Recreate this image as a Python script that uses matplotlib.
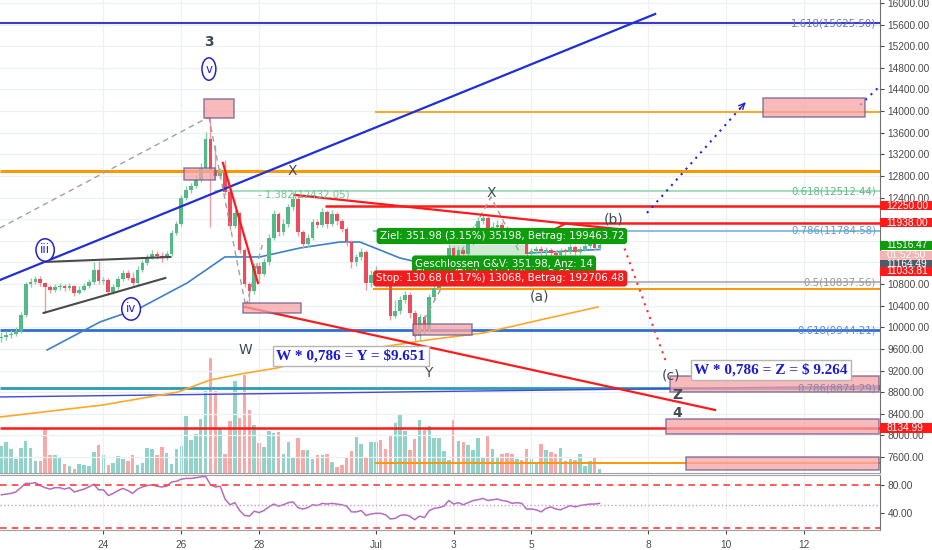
import numpy as np
import pandas as pd
import matplotlib
matplotlib.use("Agg")
import matplotlib.pyplot as plt
import matplotlib.dates as mdates
import matplotlib.transforms as mtransforms
from matplotlib.patches import Rectangle
from datetime import datetime

# BTCUSD 3h candles, 21 Jun 09:00 -> 6 Jul 18:00 (2019)
closes = [9821, 9858, 9876, 9932, 10228, 10801, 10838, 10894, 10820, 10746,
          10690, 10746, 10764, 10727, 10764, 10635, 10690, 10764, 10838, 11060,
          10857, 10875, 10653, 10746, 10894, 11005, 10912, 10820, 11060, 11190,
          11301, 11356, 11319, 11282, 11356, 11745, 11911, 12392, 12540, 12614,
          12725, 12947, 13484, 12910, 12799, 12855, 12503, 11874, 12115, 11430,
          10801, 10672, 11134, 10986, 11208, 11652, 12096, 11763, 11911, 12226,
          12374, 11763, 11541, 11652, 11948, 11893, 12133, 11911, 12096, 11967,
          11819, 11578, 11208, 11301, 11393, 10820, 10968, 11005, 10931, 10820,
          10209, 10302, 10505, 10598, 10265, 9839, 10191, 9969, 10561, 10727,
          10820, 11042, 11467, 11301, 11430, 11356, 11578, 11800, 11967, 12022,
          11819, 11856, 11893, 11782, 11745, 11615, 11671, 11615, 11356, 11412,
          11449, 11412, 11430, 11375, 11338, 11412, 11393, 11486, 11393, 11449,
          11504, 11541, 11467, 11516]
highs = [9913, 9932, 9950, 10006, 10283, 10838, 10912, 10949, 10949, 10838,
         10783, 10801, 10820, 10801, 10820, 10783, 10764, 10820, 10894, 11208,
         11227, 10931, 10912, 10801, 10949, 11060, 11060, 11023, 11134, 11245,
         11356, 11430, 11412, 11393, 11412, 11800, 11967, 12448, 12614, 12670,
         12818, 13040, 13613, 13890, 13373, 12947, 13095, 12577, 12170, 12133,
         11467, 10838, 11190, 11208, 11282, 11726, 12170, 12133, 12004, 12281,
         12503, 12429, 11800, 11726, 12004, 11985, 12207, 12170, 12170, 12133,
         12004, 11856, 11615, 11356, 11467, 11430, 11060, 11134, 11060, 11023,
         10875, 10505, 10579, 10672, 10653, 10320, 10246, 10228, 10616, 10801,
         10875, 11134, 11541, 11504, 11504, 11467, 11652, 11874, 12041, 12096,
         12059, 11948, 11985, 11948, 11874, 11800, 11726, 11708, 11652, 11467,
         11504, 11504, 11486, 11467, 11430, 11467, 11467, 11541, 11523, 11504,
         11560, 11615, 11597, 11615]
lows = [9728, 9765, 9802, 9839, 9895, 10191, 10746, 10801, 10764, 10265,
        10635, 10653, 10690, 10672, 10690, 10579, 10616, 10672, 10727, 10801,
        10801, 10801, 10598, 10616, 10709, 10857, 10875, 10764, 10783, 11023,
        11153, 11264, 11264, 11208, 11245, 11319, 11708, 11874, 12355, 12485,
        12577, 12688, 12892, 11856, 12725, 12762, 12448, 11800, 11837, 11375,
        10746, 10413, 10616, 10838, 10949, 11153, 11615, 11689, 11708, 11856,
        12170, 11689, 11467, 11486, 11615, 11837, 11856, 11837, 11874, 11893,
        11763, 11504, 11097, 11134, 11245, 10690, 10746, 10875, 10838, 10746,
        10135, 10172, 10246, 10450, 10172, 9728, 9765, 9876, 9913, 10505,
        10653, 10764, 10986, 11245, 11264, 11282, 11319, 11523, 11763, 11911,
        11763, 11763, 11800, 11726, 11689, 11560, 11523, 11541, 11208, 11301,
        11356, 11338, 11319, 11319, 11282, 11301, 11338, 11356, 11338, 11356,
        11412, 11467, 11430, 11449]
volumes = [27, 31, 24, 14, 25, 32, 25, 12, 12, 45,
           18, 18, 16, 9, 7, 4, 9, 8, 7, 21,
           28, 18, 8, 10, 17, 14, 12, 18, 8, 10,
           25, 24, 18, 26, 20, 9, 24, 27, 57, 33,
           39, 54, 82, 115, 82, 44, 19, 52, 92, 55,
           98, 63, 48, 30, 26, 42, 40, 41, 19, 31,
           16, 35, 23, 23, 14, 18, 18, 19, 11, 6,
           8, 16, 22, 36, 29, 15, 31, 31, 33, 24,
           38, 50, 59, 42, 23, 34, 53, 43, 47, 35,
           35, 22, 13, 53, 32, 31, 28, 23, 35, 16,
           38, 24, 15, 19, 20, 19, 14, 13, 24, 14,
           11, 29, 23, 21, 19, 25, 12, 14, 13, 19,
           7, 12, 15, 4]
rsi = [66, 67, 68, 70, 76, 82, 82, 83, 79, 76,
       74, 76, 76, 74, 76, 70, 72, 74, 77, 81,
       73, 73, 65, 68, 72, 75, 72, 68, 74, 77,
       79, 80, 78, 77, 78, 84, 85, 88, 89, 89,
       90, 91, 92, 80, 77, 78, 60, 52, 55, 44,
       37, 36, 43, 41, 44, 49, 53, 50, 52, 55,
       56, 48, 46, 48, 52, 51, 54, 53, 54, 53,
       52, 50, 42, 42, 44, 37, 39, 40, 40, 38,
       32, 33, 37, 38, 36, 31, 36, 34, 44, 47,
       48, 50, 58, 53, 55, 52, 55, 58, 59, 61,
       58, 59, 60, 58, 57, 54, 55, 54, 46, 46,
       45, 42, 47, 49, 46, 45, 48, 51, 49, 51,
       52, 53, 53, 54]

# moving averages (June day, price)
ma_blue_days = [22.55, 23.91, 24.94, 26.15, 27.12, 28.02, 29.05, 30.08, 30.59, 31.62, 32.39, 33.42, 34.96, 36.76]
ma_blue = [9580, 10098, 10357, 10820, 11301, 11301, 11467, 11578, 11578, 11282, 11153, 11208, 11375, 11440]
ma_orange_days = [21.34, 23.99, 25.92, 26.74, 27.53, 28.46, 29.82, 32.32, 33.76, 35.22, 36.71]
ma_orange = [8340, 8563, 8803, 9025, 9136, 9247, 9488, 9765, 9895, 10135, 10376]

fib_prices = [15625.50, 12512.44, 11784.58, 10837.56, 9944.21, 8874.29]
fib_names = ["1.618", "0.618", "0.786", "0.5", "0.618", "0.786"]

tag_prices = [12250.00, 11938.00, 11516.47, 11164.49, 11033.81, 8134.99]
price_ticks = list(range(7600, 16001, 400))
hidden_ticks = [12000, 11600, 11200]
date_ticks = [24, 26, 28, 31, 33, 35, 38, 40, 42]
date_labels = ["24", "26", "28", "Jul", "3", "5", "8", "10", "12"]

AXFONT = "Liberation Sans"
AXSIZE = 7.3


def jun(d):
    # day of June 2019 (past 30 runs into July) -> date number
    return mdates.date2num(datetime(2019, 6, 1)) + d - 1


t = mdates.date2num(pd.date_range("2019-06-21 09:00", periods=len(closes), freq="3h").to_pydatetime())
c = np.array(closes, dtype=float)
o = np.concatenate([[9800.0], c[:-1]])
h = np.maximum(np.array(highs), np.maximum(o, c))
l = np.minimum(np.array(lows), np.minimum(o, c))
up = c >= o

fig = plt.figure(figsize=(9.32, 5.5), dpi=100)
ax = fig.add_axes([0, 77 / 550, 880 / 932, 473 / 550])
axv = ax.twinx()
ax.set_zorder(3)
axv.set_zorder(1)
ax.patch.set_visible(False)
axr = fig.add_axes([0, 20 / 550, 880 / 932, 55 / 550], sharex=ax)

x0, x1 = jun(21.34), jun(43.96)
ax.set_xlim(x0, x1)
ax.set_ylim(7304, 16055)
axv.set_ylim(0, 473)

# grid
for d in date_ticks:
    ax.axvline(jun(d), color="#edf1f6", lw=0.9, zorder=0)
    axr.axvline(jun(d), color="#edf1f6", lw=0.9, zorder=0)
for p in price_ticks:
    ax.axhline(p, color="#edf1f6", lw=0.9, zorder=0)

# volume
vcol = np.where(up, "#92d3c9", "#f6a9a7")
axv.bar(t, volumes, width=0.09, color=vcol, zorder=1)
axv.set_yticks([])
for s in axv.spines.values():
    s.set_visible(False)

# horizontal levels
ax.hlines(fib_prices[0], x0, x1, color="#3b3bd2", lw=1.5, zorder=2)
ax.hlines(13980, jun(30.98), x1, color="#f9a825", lw=1.4, zorder=2)
ax.hlines(12900, x0, x1, color="#ff9800", lw=2.2, zorder=2)
ax.hlines(fib_prices[1], jun(26.85), x1, color="#a6dfc0", lw=1.5, zorder=2)
ax.hlines(12250, jun(29.69), x1, color="#ff1a1a", lw=1.8, zorder=2)
ax.hlines(11938, jun(35.7), x1, color="#ff1a1a", lw=1.8, zorder=2)
ax.hlines(fib_prices[2], jun(30.93), x1, color="#92bce0", lw=1.5, zorder=2)
ax.hlines(fib_prices[3], jun(30.93), x1, color="#b8b8b8", lw=1.5, zorder=2)
ax.hlines(10700, jun(30.93), x1, color="#ff9800", lw=1.4, zorder=2)
ax.hlines(fib_prices[4], x0, x1, color="#2f6fd6", lw=2, zorder=2)
ax.hlines(fib_prices[5], x0, x1, color="#2a9cb3", lw=2, zorder=2)
ax.plot([x0, x1], [8711, 8914], color="#4646dc", lw=1, zorder=2)
ax.hlines(8134.99, x0, x1, color="#ff1a1a", lw=1.8, zorder=2)
ax.hlines(7490, jun(30.98), x1, color="#ff9800", lw=1.4, zorder=2)

# moving averages
ax.plot([jun(d) for d in ma_blue_days], ma_blue, color="#3b82c8", lw=1.2, zorder=3)
ax.plot([jun(d) for d in ma_orange_days], ma_orange, color="#ffa726", lw=1.2, zorder=3)

# position tool areas
ax.add_patch(Rectangle((jun(32.91), 11164.49), jun(34.89) - jun(32.91), 11516.47 - 11164.49,
                       facecolor="#cdebd3", edgecolor="none", zorder=3))
ax.add_patch(Rectangle((jun(32.91), 11033.81), jun(34.89) - jun(32.91), 11164.49 - 11033.81,
                       facecolor="#f8d0d0", edgecolor="none", zorder=3))

# candles
ax.vlines(t[up], l[up], h[up], color="#86cda8", lw=1, zorder=4)
ax.vlines(t[~up], l[~up], h[~up], color="#f29aa3", lw=1, zorder=4)
body = c - o
body[np.abs(body) < 25] = 25
ax.bar(t, body, bottom=o, width=0.095, color=np.where(up, "#53b987", "#eb4d5c"), zorder=5)

# trend lines
ax.plot([x0, jun(38.18)], [10875, 15796], color="#1f2fd8", lw=1.6, zorder=6)
ax.plot([x0, jun(26.71)], [11837, 13890], color="#a0a0a0", lw=1, ls=(0, (4, 3)), zorder=6)
ax.plot([jun(26.71), jun(27.66), jun(28.08)], [13890, 10376, 11523], color="#a0a0a0", lw=1, ls=(0, (4, 3)), zorder=6)
ax.plot([jun(32.0), jun(33.96), jun(34.7)], [9821, 12411, 11375], color="#a0a0a0", lw=1, ls=(0, (4, 3)), zorder=6)
ax.plot([jun(22.48), jun(25.72)], [11208, 11301], color="#4a4a4a", lw=1.5, zorder=6)
ax.plot([jun(22.46), jun(25.59)], [10265, 10912], color="#4a4a4a", lw=1.5, zorder=6)
ax.plot([jun(27.07), jun(27.97)], [13040, 10820], color="#ff1a1a", lw=1.6, zorder=6)
ax.plot([jun(27.64), jun(39.72)], [10376, 8470], color="#ff1a1a", lw=1.6, zorder=6)
ax.plot([jun(28.92), jun(37.2)], [12448, 11819], color="#ff1a1a", lw=1.6, zorder=6)
ax.annotate("", xy=(jun(34.97), 11597), xytext=(jun(35.92), 11930),
            arrowprops=dict(arrowstyle="-|>", color="#ff1a1a", lw=1.3), zorder=6)
ax.plot([jun(37.2), jun(38.49)], [11837, 9303], color="#ff2a2a", lw=1.5, ls=(0, (1, 2.5)), zorder=6)
ax.plot([jun(37.97), jun(40.49)], [12115, 14150], color="#2323d0", lw=1.5, ls=(0, (1, 2.5)), zorder=6)
ax.annotate("", xy=(jun(40.55), 14200), xytext=(jun(40.3), 14000),
            arrowprops=dict(arrowstyle="->", color="#2323d0", lw=1), zorder=6)
ax.plot([jun(43.45), jun(44.1)], [14113, 14560], color="#2323d0", lw=1.5, ls=(0, (1, 2.5)), zorder=6)

# boxes
boxes = [(26.58, 27.35, 13872, 14224), (26.07, 26.87, 12725, 12947), (27.59, 29.08, 10265, 10450),
         (31.96, 33.48, 9858, 10061), (40.95, 43.58, 13890, 14242), (38.57, 43.93, 8803, 9099),
         (38.46, 43.93, 8026, 8304), (38.98, 43.93, 7360, 7600)]
for a, b, lo, hi in boxes:
    ax.add_patch(Rectangle((jun(a), lo), jun(b) - jun(a), hi - lo, facecolor="#f7a3a6", alpha=0.75,
                           edgecolor="#6b5b8c", lw=1.1, zorder=7))

# fib labels
trans = mtransforms.blended_transform_factory(ax.transAxes, ax.transData)
fib_cols = ["#6d78b8", "#63b884", "#5f9fd6", "#999999", "#5f86d6", "#8a86a8"]
for p, n, col in zip(fib_prices, fib_names, fib_cols):
    ax.text(0.9955, p, f"{n}({p:.2f})", transform=trans, ha="right", va="center",
            fontsize=7.3, color=col, zorder=8)
ax.text(jun(27.97), 12448, "- 1.382(12432.05)", fontsize=7.3, color="#6fc490", va="center", zorder=8)

# wave labels
wc = "#434a54"
for d, p, s in [(26.71, 15278, "3"), (28.85, 12892, "X"), (33.96, 12485, "X"), (27.66, 9580, "W"),
                (32.34, 9155, "Y"), (35.20, 10561, "(a)"), (37.12, 11985, "(b)"), (38.59, 9099, "(c)"),
                (38.75, 8747, "Z"), (38.75, 8415, "4")]:
    ax.text(jun(d), p, s, ha="center", va="center", fontsize=10, color=wc, zorder=9,
            fontweight="bold" if s in ("3", "4", "Z") else "normal")
for d, p, s in [(26.71, 14778, "v"), (22.50, 11430, "iii"), (24.71, 10339, "iv")]:
    ax.text(jun(d), p, s, ha="center", va="center", fontsize=8.5, color="#2323c9", zorder=9,
            bbox=dict(boxstyle="ellipse,pad=0.12", fc="white", ec="#2323c9", lw=1.1))

ax.text(jun(30.36), 9469, "W * 0,786 = Y = $9.651", ha="center", va="center", fontsize=11,
        fontweight="bold", family="Liberation Serif", color="#1b1bd1", zorder=15,
        bbox=dict(boxstyle="square,pad=0.2", fc="white", ec="#b5b5b5", lw=1))
ax.text(jun(41.16), 9210, "W * 0,786 = Z = $ 9.264", ha="center", va="center", fontsize=11,
        fontweight="bold", family="Liberation Serif", color="#1b1bd1", zorder=15,
        bbox=dict(boxstyle="square,pad=0.2", fc="white", ec="#b5b5b5", lw=1))

# position tool labels
ax.text(jun(31.10), 11689, "Ziel: 351.98 (3.15%) 35198, Betrag: 199463.72", fontsize=7.4, color="white",
        va="center", zorder=16, bbox=dict(boxstyle="round,pad=0.3", fc="#0c9c0c", ec="none"))
ax.text(jun(32.01), 11080, "Geschlossen G&V: 351.98, Anz: 14\nChance/Risiko Verhältnis: 2.69", fontsize=7.4,
        color="white", va="center", zorder=16, linespacing=1.1,
        bbox=dict(boxstyle="round,pad=0.3", fc="#0c9c0c", ec="none"))
ax.text(jun(31.01), 10903, "Stop: 130.68 (1.17%) 13068, Betrag: 192706.48", fontsize=7.4, color="white",
        va="center", zorder=17, bbox=dict(boxstyle="round,pad=0.3", fc="#f21c1c", ec="none"))

# price axis
ax.yaxis.tick_right()
ax.set_yticks(price_ticks)
ax.set_yticklabels(["" if p in hidden_ticks else f"{p:.2f}" for p in price_ticks], family=AXFONT)
ax.tick_params(axis="y", labelsize=AXSIZE, colors="#4a4a4a", length=3, pad=2.5)
ax.tick_params(axis="x", length=0, labelbottom=False)
for side in ("top", "left"):
    ax.spines[side].set_visible(False)
ax.spines["right"].set_color("#707070")
ax.spines["bottom"].set_color("#a0a0a0")


def price_tag(price, text, color, fg="white"):
    ax.add_patch(Rectangle((1.0, price - 88), 52 / 880, 176, transform=trans, facecolor=color,
                           edgecolor="none", clip_on=False, zorder=20))
    ax.text(1.007, price, text, transform=trans, color=fg, fontsize=AXSIZE, family=AXFONT,
            va="center", ha="left", clip_on=False, zorder=21)


price_tag(11330, "01:52:50", "#f4b4b4")
tag_cols = ["#ff1a1a", "#ff1a1a", "#0c9c0c", "#4f5b66", "#ff1a1a", "#ff1a1a"]
for p, col in zip(tag_prices, tag_cols):
    price_tag(p, f"{p:.2f}", col)

# RSI panel
axr.plot(t, rsi, color="#b46cbd", lw=1.1)
axr.axhline(80, color="#ff4040", lw=1.2, ls=(0, (4, 3)))
axr.axhline(20, color="#ff4040", lw=1.2, ls=(0, (4, 3)))
axr.axhline(52, color="#c39bd0", lw=1, ls=":")
axr.set_ylim(16.6, 93.8)
axr.yaxis.tick_right()
axr.set_yticks([40, 80])
axr.set_yticklabels(["40.00", "80.00"], family=AXFONT)
axr.tick_params(axis="y", labelsize=AXSIZE, colors="#4a4a4a", length=3, pad=2.5)
axr.set_xticks([jun(d) for d in date_ticks])
axr.set_xticklabels(date_labels, family=AXFONT)
axr.tick_params(axis="x", labelsize=AXSIZE, colors="#4a4a4a", length=3, pad=4)
axr.spines["left"].set_visible(False)
axr.spines["right"].set_color("#707070")
axr.spines["top"].set_color("#a0a0a0")
axr.spines["bottom"].set_color("#a0a0a0")
axr.set_xlim(x0, x1)

fig.savefig("out.png", dpi=100)
